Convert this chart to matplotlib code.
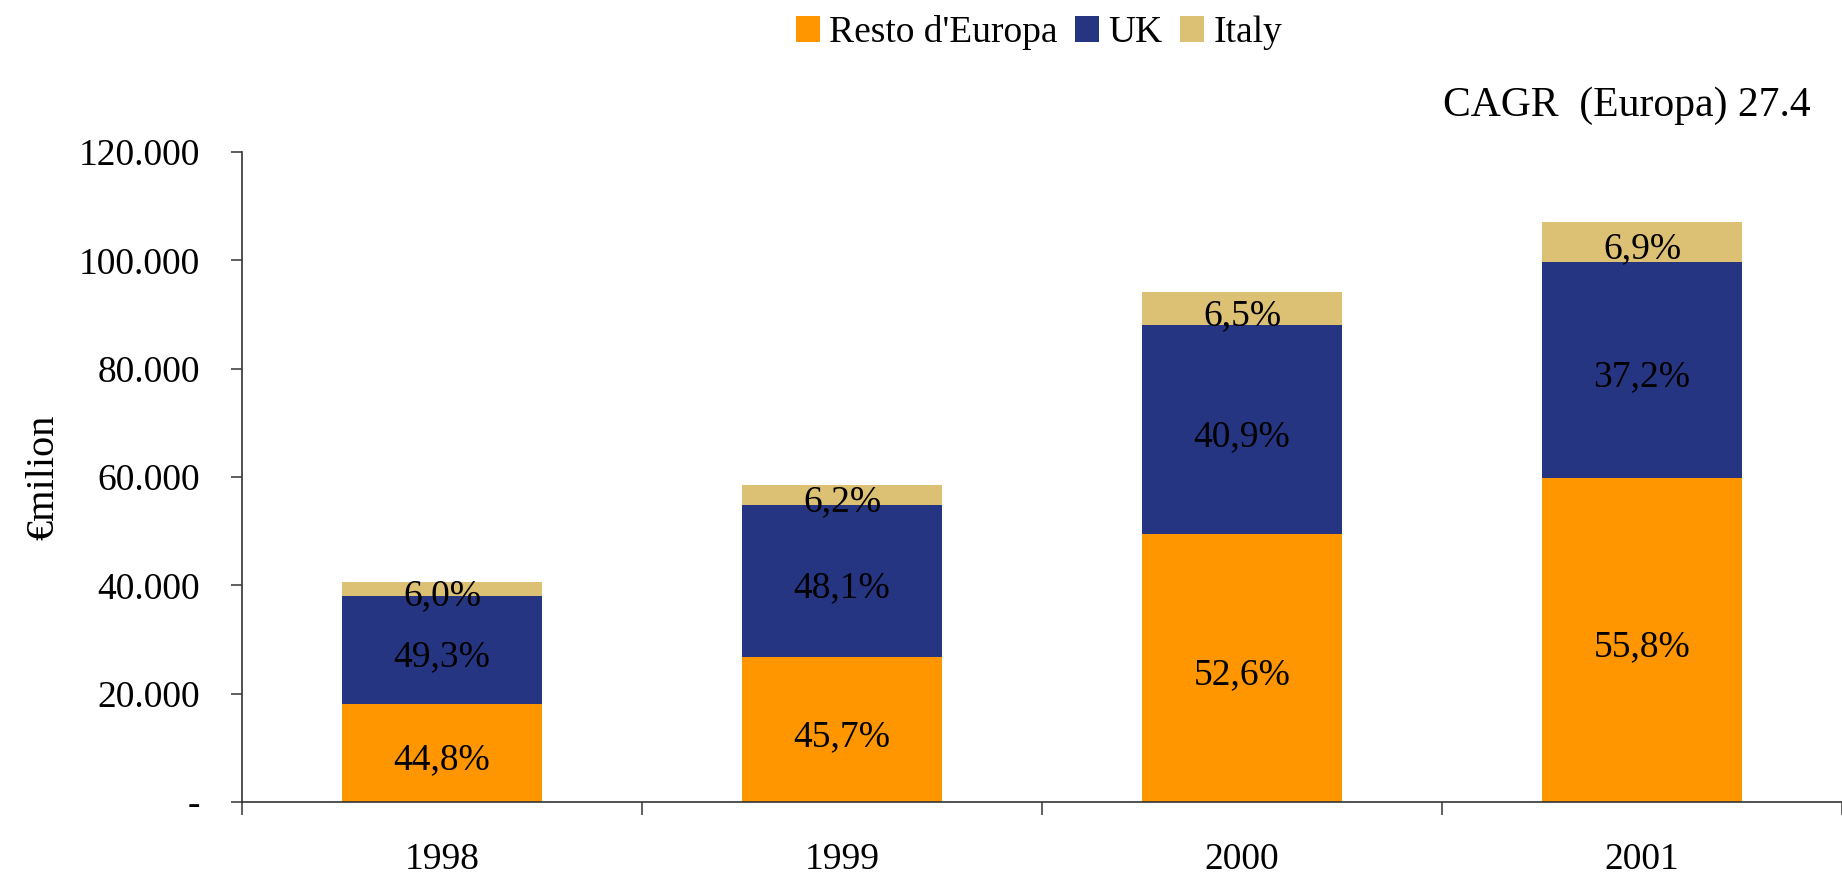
import numpy as np
import matplotlib.pyplot as plt
from matplotlib.ticker import FuncFormatter

plt.rcParams['font.family'] = ['Liberation Serif', 'DejaVu Serif']

# Market size (€ milioni) and regional shares (%)
years = ["1998", "1999", "2000", "2001"]
totals = [40500, 58500, 94100, 107100]
share_resto = [44.8, 45.7, 52.6, 55.8]
share_uk = [49.3, 48.1, 40.9, 37.2]
share_italy = [6.0, 6.2, 6.5, 6.9]

series = [
    ("Resto d'Europa", share_resto, "#FF9600"),
    ("UK", share_uk, "#263582"),
    ("Italy", share_italy, "#DCC073"),
]

fig = plt.figure(figsize=(18.42, 8.8), dpi=100)
ax = fig.add_axes([0.1314, 0.0886, 0.8686, 0.7387])

x = np.arange(len(years))
bottom = np.zeros(len(years))
for name, shares, color in series:
    vals = np.array(totals) * np.array(shares) / 100
    ax.bar(x, vals, 0.5, bottom=bottom, color=color, label=name)
    for xi, b, v, s in zip(x, bottom, vals, shares):
        ax.annotate(f"{s:.1f}%".replace(".", ","), (xi, b + v / 2),
                    xytext=(0, -5), textcoords="offset points",
                    ha="center", va="center", fontsize=27)
    bottom += vals

ax.set_xlim(-0.5, 3.5)
ax.set_ylim(0, 120000)
ax.set_yticks(np.arange(0, 120001, 20000))
ax.yaxis.set_major_formatter(FuncFormatter(
    lambda v, p: "-" if v == 0 else f"{v:,.0f}".replace(",", ".")))

# boundaries between years carry the ticks, year names sit at bar centres
ax.set_xticks([-0.5, 0.5, 1.5, 2.5, 3.5])
ax.set_xticklabels([])
ax.set_xticks(x, minor=True)
ax.set_xticklabels(years, minor=True)
ax.tick_params(axis="x", which="major", length=9.5, width=1.2, color="#444444")
ax.tick_params(axis="x", which="minor", length=0, pad=29, labelsize=27)
ax.tick_params(axis="y", length=8, width=1.2, color="#444444", pad=22, labelsize=27)

for side in ["top", "right"]:
    ax.spines[side].set_visible(False)
for side in ["left", "bottom"]:
    ax.spines[side].set_linewidth(1.2)
    ax.spines[side].set_color("#333333")

ax.set_ylabel("€milion", fontsize=29, labelpad=12)

fig.legend(loc="center", bbox_to_anchor=(0.564, 0.963), ncol=3, frameon=False,
           fontsize=27, handlelength=0.65, handleheight=0.7,
           handletextpad=0.25, columnspacing=0.45)

fig.text(0.983, 0.88, "CAGR  (Europa) 27.4", ha="right", va="center", fontsize=30)

fig.savefig("out.png", dpi=100)
